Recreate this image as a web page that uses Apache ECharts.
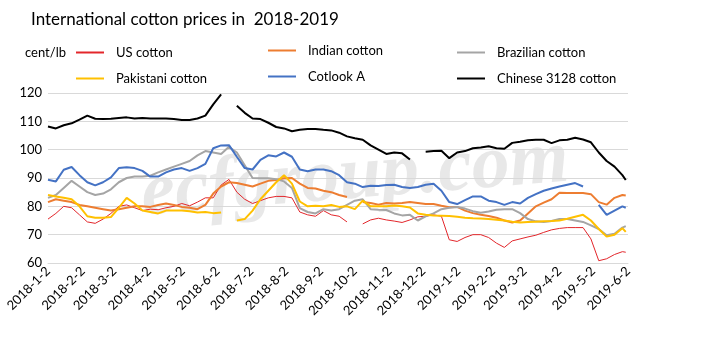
<!DOCTYPE html>
<html>
<head>
<meta charset="utf-8">
<script src="https://cdn.jsdelivr.net/npm/echarts@6/dist/echarts.min.js"></script>
<style>
html,body{margin:0;padding:0;background:#fff;}
#chart{width:701px;height:360px;}
</style>
</head>
<body>
<div id="chart"></div>
<script>
// Weekly sample dates
const dates = [
'2018-01-02','2018-01-09','2018-01-16','2018-01-23','2018-01-30','2018-02-06','2018-02-13','2018-02-20','2018-02-27','2018-03-06',
'2018-03-13','2018-03-20','2018-03-27','2018-04-03','2018-04-10','2018-04-17','2018-04-24','2018-05-01','2018-05-08','2018-05-15',
'2018-05-22','2018-05-29','2018-06-05','2018-06-12','2018-06-19','2018-06-26','2018-07-03','2018-07-10','2018-07-17','2018-07-24',
'2018-07-31','2018-08-07','2018-08-14','2018-08-21','2018-08-28','2018-09-04','2018-09-11','2018-09-18','2018-09-25','2018-10-02',
'2018-10-09','2018-10-16','2018-10-23','2018-10-30','2018-11-06','2018-11-13','2018-11-20','2018-11-27','2018-12-04','2018-12-11',
'2018-12-18','2018-12-25','2019-01-01','2019-01-08','2019-01-15','2019-01-22','2019-01-29','2019-02-05','2019-02-12','2019-02-19',
'2019-02-26','2019-03-05','2019-03-12','2019-03-19','2019-03-26','2019-04-02','2019-04-09','2019-04-16','2019-04-23','2019-04-30',
'2019-05-07','2019-05-14','2019-05-21','2019-05-28','2019-05-31'
];

const usCotton = [
75.5,77.5,80,79.5,77,74.5,74,75.5,77.5,80,
80.5,79.5,78.5,79,78.8,79.5,80,81,80.2,81.5,
83,83,87.5,89.5,85,82.5,81,82,83,83.5,
83.5,83,78,77,76.5,78.5,77,76.5,74.5,null,
73.8,75.2,75.8,75.2,74.8,74.3,75.2,76.3,76.5,77,
76.5,68.2,67.6,69,70,70,69,67,65.5,67.8,
68.5,69.2,69.8,70.8,71.7,72.2,72.5,72.5,72.5,68.5,
60.8,61.5,63,64,63.8
];

const indianCotton = [
81.5,82.5,82,81.5,80.5,80,79.5,79,78.5,79,
79.5,80,80,79.8,80.5,81,80.5,79.8,79.5,79,
80.5,84.5,87,88.5,88.2,87.6,87,88,89,89.3,
89.9,90,88,86.5,86.3,85.5,85,84,83.3,null,
81.5,81.2,80.6,81.2,81,81.2,81.5,81.2,80.8,80.8,
80.2,79.7,79.8,78.5,77.6,77,76.6,76,75,74.3,
75,77.5,80,81.3,82.5,84.8,84.7,84.7,84.7,84.3,
81.5,80.6,83,84,83.8
];

const brazilianCotton = [
83,84,86.5,89,87,85,84,84.5,86,88.5,
90,90.5,90.5,90.8,92,93,94,95,96,98,
99.5,99,98.5,101,99,94.5,90,89.9,89.9,89.6,
88.8,86.5,79.4,78,77.5,79,78.5,79,80.5,82,
82.5,79,78.8,78.7,77.5,76.8,77,75,76.5,77.5,
79,79.5,79.8,79.2,78.3,77.7,78.2,78.8,79,79,
77.6,75.5,74.7,74.5,74.8,75.5,75.5,75,74.5,73.3,
72,69.8,70.3,72.5,73
];

const pakistaniCotton = [
84,83.5,83,82.5,80,76.5,76,76,76.2,79.5,
83,81,78.5,78,77.5,78.5,78.5,78.5,78.3,77.8,
78,77.6,77.8,null,75,75.5,78.5,82.5,85.5,88.5,
91,88,81.7,80,80.2,80,80.5,79.8,80,79,
82,80,80,80,80.3,80,79.6,77.5,77,76.8,
76.7,76.6,76.3,76,75.8,75.7,75.5,75.3,75,74.6,
74.3,74.5,74.6,74.7,74.8,75,75.6,76.3,77,75,
72,69.3,70,72.3,71
];

const cotlookA = [
89.4,88.8,92.9,93.9,91,88.5,87.4,88.5,90.2,93.5,
93.8,93.5,92.5,90.5,90.5,92,93,93.5,92.5,93.5,
95,100.5,101.5,101.6,97.5,93.5,93,96.4,98,97.6,
99,97.5,93,92.4,93,93,92.4,91,88.5,88,
86.8,87.3,87.2,87.5,87.6,86.8,86.5,86.8,87.6,88,
85.5,81.5,80.8,82.2,83.5,83.5,82,81.5,80.5,81.5,
81,83,84.3,85.5,86.3,87,87.6,88.2,87,null,
80.5,77,78.5,80,79.5
];

const chinese3128 = [
108.2,107.5,108.6,109.3,110.6,112,110.9,110.8,110.9,111.2,
111.4,111,111.2,111,111,111,110.8,110.5,110.5,111,
112,116,119.5,null,115.5,113,111,110.8,109.5,108,
107.5,106.5,107,107.3,107.3,107,106.8,106,104.7,104,
103.5,101.5,100,98.5,99,98.7,96.5,null,99.3,99.5,
99.6,97,99,99.5,100.5,100.8,101.2,100.5,100.3,102.4,
102.8,103.3,103.5,103.5,102.3,103.3,103.5,104.2,103.6,102.6,
99,96,94,91,89.3
];

const xTicks = ['2018-01-02','2018-02-02','2018-03-02','2018-04-02','2018-05-02','2018-06-02','2018-07-02','2018-08-02','2018-09-02',
'2018-10-02','2018-11-02','2018-12-02','2019-01-02','2019-02-02','2019-03-02','2019-04-02','2019-05-02','2019-06-02'];

const seriesNames = ['US cotton','Indian cotton','Brazilian cotton','Pakistani cotton','Cotlook A','Chinese 3128 cotton'];
const seriesValues = [usCotton, indianCotton, brazilianCotton, pakistaniCotton, cotlookA, chinese3128];
const seriesColors = ['#E3262B','#ED7D31','#A5A5A5','#FFC000','#4472C4','#000000'];
const seriesWidths = [1, 2, 2, 2, 2, 2];

const FONT = 'Lato';
const toTime = s => { const p = s.split('-').map(Number); return new Date(p[0], p[1] - 1, p[2]).getTime(); };

const chart = echarts.init(document.getElementById('chart'), null, {renderer: 'canvas'});

const series = seriesNames.map((name, k) => ({
  name: name,
  type: 'line',
  showSymbol: false,
  symbol: 'none',
  connectNulls: false,
  z: 2 + k,
  lineStyle: {color: seriesColors[k], width: seriesWidths[k]},
  itemStyle: {color: seriesColors[k]},
  data: dates.map((d, i) => [toTime(d), seriesValues[k][i]])
}));

const legendBase = {
  orient: 'vertical',
  icon: 'rect',
  itemWidth: 28,
  itemHeight: 2,
  itemGap: 13,
  padding: 0,
  textStyle: {fontFamily: FONT, fontSize: 13, color: '#000', padding: [0, 0, 0, 7]}
};

chart.setOption({
  animation: false,
  backgroundColor: '#fff',
  title: {
    text: 'International cotton prices in  2018-2019',
    left: 26, top: 6,
    textStyle: {fontFamily: FONT, fontSize: 17, fontWeight: 'normal', color: '#000'}
  },
  legend: [
    Object.assign({}, legendBase, {left: 76, top: 46, data: ['US cotton', 'Pakistani cotton']}),
    Object.assign({}, legendBase, {left: 268, top: 44, data: ['Indian cotton', 'Cotlook A']}),
    Object.assign({}, legendBase, {left: 457, top: 46, data: ['Brazilian cotton', 'Chinese 3128 cotton']})
  ],
  graphic: [
    {type: 'text', left: 25, top: 46, style: {text: 'cent/lb', fontFamily: FONT, fontSize: 13, fill: '#000'}},
    {type: 'text', x: 355, y: 178, rotation: 0.08, z: 0, silent: true,
     style: {text: 'ecfgroup.com', fontFamily: 'Liberation Serif', fontStyle: 'italic', fontWeight: 'bold',
             fontSize: 76, fill: 'rgba(190,190,190,0.35)', align: 'center', verticalAlign: 'middle'}}
  ],
  grid: {left: 48, right: 73, top: 93, bottom: 97, containLabel: false},
  xAxis: {
    type: 'value',
    min: toTime('2018-01-02'),
    max: toTime('2019-06-02'),
    splitLine: {show: false},
    axisLine: {show: true, lineStyle: {color: '#D9D9D9'}},
    axisTick: {show: false},
    axisLabel: {
      customValues: xTicks.map(toTime),
      rotate: 45,
      margin: 6,
      hideOverlap: false,
      fontFamily: FONT, fontSize: 13, color: '#000',
      formatter: v => { const d = new Date(v); return d.getFullYear() + '-' + (d.getMonth() + 1) + '-' + d.getDate(); }
    }
  },
  yAxis: {
    type: 'value',
    min: 60, max: 120, interval: 10,
    axisLine: {show: false},
    axisTick: {show: false},
    splitLine: {show: true, lineStyle: {color: '#D9D9D9'}},
    axisLabel: {fontFamily: FONT, fontSize: 13, color: '#000', margin: 6}
  },
  series: series
});
</script>
</body>
</html>
